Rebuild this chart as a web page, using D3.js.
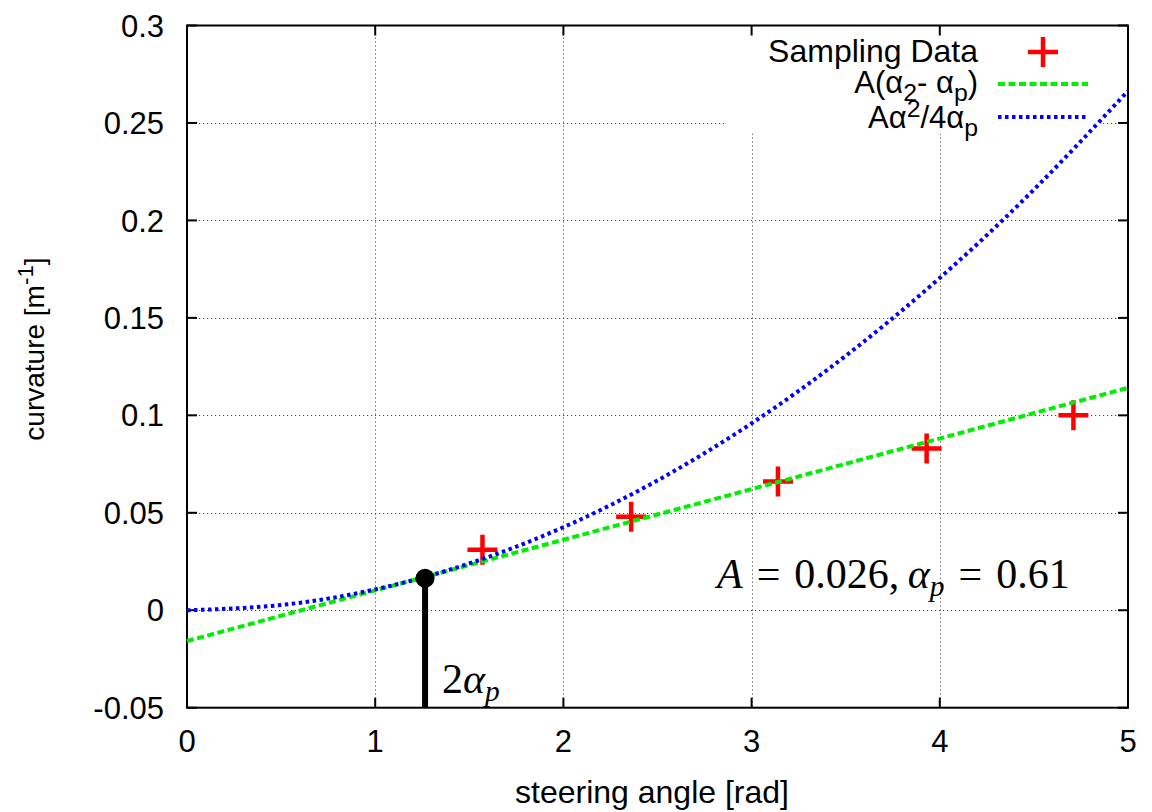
<!DOCTYPE html>
<html>
<head>
<meta charset="utf-8">
<script src="https://cdn.jsdelivr.net/npm/d3@7"></script>
<style>
  body { margin: 0; background: #fff; }
  text { font-family: "Liberation Sans", Arial, Helvetica, sans-serif; fill: #000; }
  .math { font-family: "Liberation Serif", "Times New Roman", serif; }
</style>
</head>
<body>
<svg id="chart" width="1152" height="812"></svg>
<script>
// Axis ticks
const xTicks = [0, 1, 2, 3, 4, 5];
const xTickLabels = ["0", "1", "2", "3", "4", "5"];
const yTicks = [-0.05, 0, 0.05, 0.1, 0.15, 0.2, 0.25, 0.3];
const yTickLabels = ["-0.05", "0", "0.05", "0.1", "0.15", "0.2", "0.25", "0.3"];

// Measured curvature at sampled steering angles
const sampleAngle = [1.57, 2.36, 3.14, 3.93, 4.71];
const sampleCurv = [0.031, 0.048, 0.066, 0.083, 0.100];

// Linear model A(α - αp)
const linearAngle = [0, 5];
const linearCurv = [-0.0158, 0.1141];

// Quadratic model Aα²/4αp
const quadAngle = [0, 0.5, 1, 1.5, 2, 2.5, 3, 3.5, 4, 4.5, 5];
const quadCurv = [0, 0.0027, 0.0107, 0.0240, 0.0426, 0.0666, 0.0959, 0.1305, 0.1705, 0.2158, 0.2664];

// Tangent point at 2αp
const markAngle = [1.265];
const markCurv = [0.0164];

const svg = d3.select("#chart");
const W = 1152, H = 812;
const pL = 187, pR = 1128, pT = 25.5, pB = 707.7;

const x = d3.scaleLinear().domain([0, 5]).range([pL, pR]);
const y = d3.scaleLinear().domain([-0.05, 0.3]).range([pB, pT]);

svg.append("rect").attr("width", W).attr("height", H).attr("fill", "#fff");

// Grid
const grid = svg.append("g").attr("stroke", "#444").attr("stroke-width", 1)
  .attr("stroke-dasharray", "1.2,2.8");
xTicks.slice(1, -1).forEach(t => {
  grid.append("line").attr("x1", Math.round(x(t)) + 0.5).attr("x2", Math.round(x(t)) + 0.5)
    .attr("y1", pT).attr("y2", pB);
});
yTicks.slice(1, -1).forEach(t => {
  grid.append("line").attr("y1", Math.round(y(t)) + 0.5).attr("y2", Math.round(y(t)) + 0.5)
    .attr("x1", pL).attr("x2", pR);
});

// Opaque key background
svg.append("rect").attr("x", 725).attr("y", pT + 1).attr("width", 378).attr("height", 107).attr("fill", "#fff");

// Border and inward ticks (mirrored on all sides)
const fr = svg.append("g").attr("stroke", "#000").attr("stroke-width", 2).attr("fill", "none");
fr.append("rect").attr("x", pL).attr("y", pT).attr("width", pR - pL).attr("height", pB - pT);
const tl = 10;
xTicks.forEach(t => {
  fr.append("line").attr("x1", x(t)).attr("x2", x(t)).attr("y1", pB).attr("y2", pB - tl);
  fr.append("line").attr("x1", x(t)).attr("x2", x(t)).attr("y1", pT).attr("y2", pT + tl);
});
yTicks.forEach(t => {
  fr.append("line").attr("x1", pL).attr("x2", pL + tl).attr("y1", y(t)).attr("y2", y(t));
  fr.append("line").attr("x1", pR).attr("x2", pR - tl).attr("y1", y(t)).attr("y2", y(t));
});

// Tick labels
const fs = 31;
svg.append("g").selectAll("text").data(yTicks).join("text")
  .attr("x", 164).attr("y", d => y(d) + fs * 0.36)
  .attr("text-anchor", "end").attr("font-size", fs)
  .text((d, i) => yTickLabels[i]);
svg.append("g").selectAll("text").data(xTicks).join("text")
  .attr("x", d => x(d)).attr("y", 752)
  .attr("text-anchor", "middle").attr("font-size", fs)
  .text((d, i) => xTickLabels[i]);

// Axis titles
svg.append("text").attr("x", 652).attr("y", 803)
  .attr("text-anchor", "middle").attr("font-size", 32).text("steering angle [rad]");
const ylfs = 28;
const yl = svg.append("text").attr("transform", "translate(44,349) rotate(-90)")
  .attr("text-anchor", "middle").attr("font-size", ylfs);
yl.append("tspan").text("curvature [m");
yl.append("tspan").attr("dy", -11).attr("font-size", ylfs * 0.8).text("-1");
yl.append("tspan").attr("dy", 11).text("]");

// Plus marker path
function plus(cx, cy, s) {
  return `M${cx - s},${cy}H${cx + s}M${cx},${cy - s}V${cy + s}`;
}
const red = "#ff0000", green = "#00ee00", blue = "#0000ff";

// Sampling data
svg.append("g").selectAll("path").data(sampleAngle).join("path")
  .attr("d", (d, i) => plus(x(d), y(sampleCurv[i]), 15))
  .attr("stroke", red).attr("stroke-width", 4.5).attr("fill", "none");

// Linear model
const lineGen = d3.line().x(d => x(d[0])).y(d => y(d[1]));
svg.append("path").datum(linearAngle.map((a, i) => [a, linearCurv[i]]))
  .attr("d", lineGen).attr("fill", "none").attr("stroke", green)
  .attr("stroke-width", 4).attr("stroke-dasharray", "7,3.5");

// Quadratic model
const curveGen = d3.line().x(d => x(d[0])).y(d => y(d[1])).curve(d3.curveNatural);
svg.append("path").datum(quadAngle.map((a, i) => [a, quadCurv[i]]))
  .attr("d", curveGen).attr("fill", "none").attr("stroke", blue)
  .attr("stroke-width", 4).attr("stroke-dasharray", "3.5,3.5");

// 2αp marker
markAngle.forEach((a, i) => {
  svg.append("line").attr("x1", x(a)).attr("x2", x(a)).attr("y1", y(markCurv[i])).attr("y2", pB)
    .attr("stroke", "#000").attr("stroke-width", 6);
  svg.append("circle").attr("cx", x(a)).attr("cy", y(markCurv[i])).attr("r", 9.5).attr("fill", "#000");
});

// Math annotations
const mfs = 42;
const t2 = svg.append("text").attr("class", "math").attr("x", 442).attr("y", 693).attr("font-size", mfs);
t2.append("tspan").text("2");
t2.append("tspan").attr("font-style", "italic").text("α");
t2.append("tspan").attr("font-style", "italic").attr("font-size", mfs * 0.7).attr("dy", 8).text("p");

const ann = svg.append("text").attr("class", "math").attr("x", 717).attr("y", 588).attr("font-size", mfs);
ann.append("tspan").attr("font-style", "italic").text("A");
ann.append("tspan").text("\u2004=\u20040.026,\u2009");
ann.append("tspan").attr("font-style", "italic").text("α");
ann.append("tspan").attr("font-style", "italic").attr("font-size", mfs * 0.7).attr("dy", 8).text("p");
ann.append("tspan").attr("dy", -8).text("\u2004=\u20040.61");

// Key
const kfs = 32;
const keyRight = 978;
const k1 = svg.append("text").attr("x", keyRight).attr("y", 62).attr("text-anchor", "end").attr("font-size", kfs);
k1.text("Sampling Data");
svg.append("path").attr("d", plus(1043, 52, 15)).attr("stroke", red).attr("stroke-width", 4.5).attr("fill", "none");

const k2 = svg.append("text").attr("x", keyRight).attr("y", 93).attr("text-anchor", "end").attr("font-size", fs);
k2.append("tspan").text("A(α");
k2.append("tspan").attr("font-size", fs * 0.8).attr("dy", 8).text("2");
k2.append("tspan").attr("dy", -8).text("- α");
k2.append("tspan").attr("font-size", fs * 0.8).attr("dy", 8).text("p");
k2.append("tspan").attr("dy", -8).text(")");
svg.append("line").attr("x1", 998).attr("x2", 1088).attr("y1", 84).attr("y2", 84)
  .attr("stroke", green).attr("stroke-width", 4).attr("stroke-dasharray", "7,3.5");

const k3 = svg.append("text").attr("x", keyRight).attr("y", 128).attr("text-anchor", "end").attr("font-size", fs);
k3.append("tspan").text("Aα");
k3.append("tspan").attr("font-size", fs * 0.8).attr("dy", -11).text("2");
k3.append("tspan").attr("dy", 11).text("/4α");
k3.append("tspan").attr("font-size", fs * 0.8).attr("dy", 8).text("p");
svg.append("line").attr("x1", 998).attr("x2", 1086).attr("y1", 117).attr("y2", 117)
  .attr("stroke", blue).attr("stroke-width", 4).attr("stroke-dasharray", "3.5,3.5");
</script>
</body>
</html>
